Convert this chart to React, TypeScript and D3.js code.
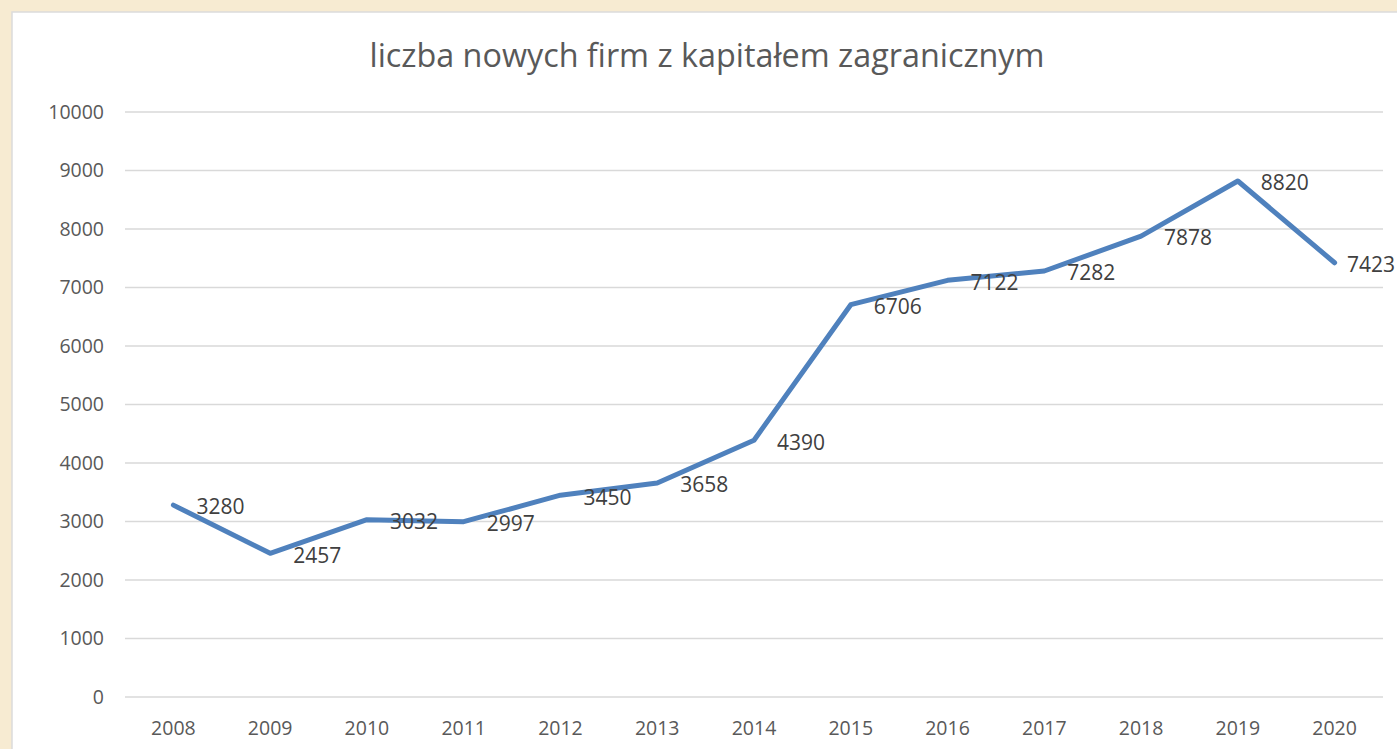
import React from "react";
import * as d3 from "d3";

const years = ["2008","2009","2010","2011","2012","2013","2014","2015","2016","2017","2018","2019","2020"];
const values = [3280,2457,3032,2997,3450,3658,4390,6706,7122,7282,7878,8820,7423];
const yTicks = [0,1000,2000,3000,4000,5000,6000,7000,8000,9000,10000];
const title = "liczba nowych firm z kapitałem zagranicznym";

export default function App() {
  const W = 1397, H = 749;
  const x = d3.scaleBand().domain(years).range([125, 1383]);
  const y = d3.scaleLinear().domain([0, 10000]).range([697, 112]);
  const cx = (d: string) => (x(d) as number) + x.bandwidth() / 2;
  const line = d3.line<number>().x((_, i) => cx(years[i])).y(d => y(d));
  const font = "'Open Sans', sans-serif";
  return (
    <div style={{ position: "fixed", left: 0, top: 0 }}>
      <svg width={W} height={H} style={{ display: "block" }}>
        <rect x={0} y={0} width={W} height={H} fill="#f7ebd2" />
        <rect x={12} y={12} width={W} height={H} fill="#ffffff" stroke="#dcdcdc" strokeWidth={1.5} />
        <text x={707} y={67} textAnchor="middle" fontFamily={font} fontSize={32} fill="#595959" textLength={675} lengthAdjust="spacingAndGlyphs">{title}</text>
        {yTicks.map(t => (
          <g key={t}>
            <line x1={125} x2={1383} y1={y(t)} y2={y(t)} stroke="#d9d9d9" strokeWidth={1.5} />
            <text x={104} y={y(t)} dy="0.35em" textAnchor="end" fontFamily={font} fontSize={19.5} fill="#595959">{t}</text>
          </g>
        ))}
        {years.map(yr => (
          <text key={yr} x={cx(yr)} y={735} textAnchor="middle" fontFamily={font} fontSize={19.5} fill="#595959">{yr}</text>
        ))}
        <path d={line(values) || ""} fill="none" stroke="#4f81bd" strokeWidth={5} strokeLinejoin="round" strokeLinecap="round" />
        {values.map((v, i) => (
          <text key={i} x={Math.min(cx(years[i]) + 23, 1347)} y={y(v) + 2} dy="0.35em" fontFamily={font} fontSize={21} fill="#404040">{v}</text>
        ))}
      </svg>
    </div>
  );
}
